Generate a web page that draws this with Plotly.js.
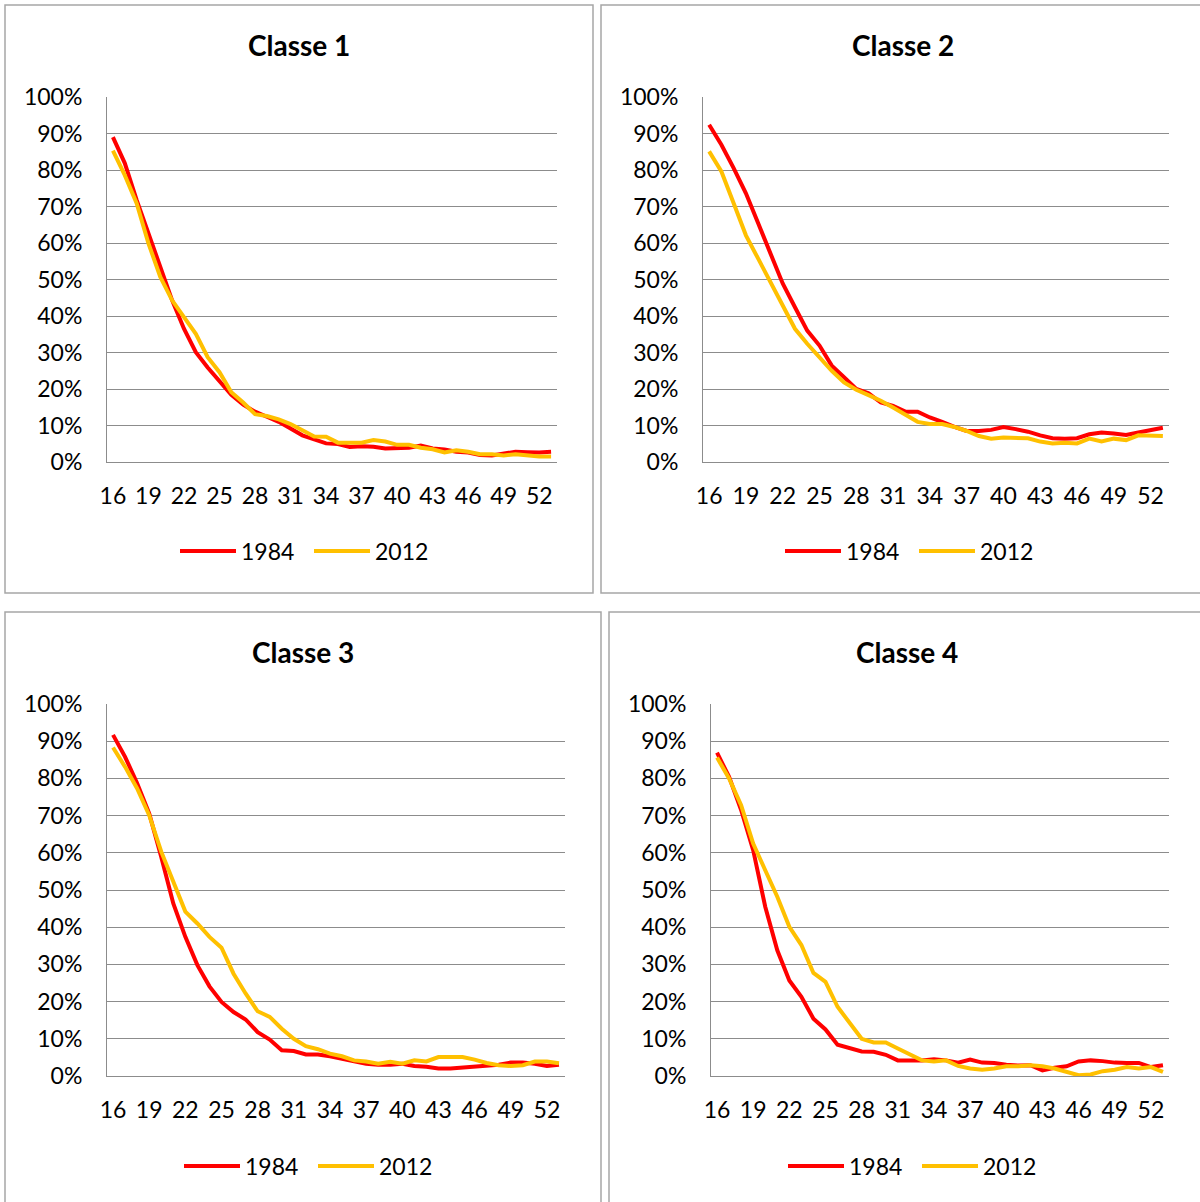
<!DOCTYPE html>
<html>
<head>
<meta charset="utf-8">
<script src="https://cdn.plot.ly/plotly-3.0.1.min.js"></script>
<style>
  html, body { margin: 0; padding: 0; background: #ffffff; }
  #chart { width: 1200px; height: 1202px; }
</style>
</head>
<body>
<div id="chart"></div>
<script>
// ---- Data (ages and shares) ----
const ages = [16,17,18,19,20,21,22,23,24,25,26,27,28,29,30,31,32,33,34,35,36,37,38,39,40,41,42,43,44,45,46,47,48,49,50,51,52,53];
const xTickVals = [16,19,22,25,28,31,34,37,40,43,46,49,52];
const seriesNames = ["1984", "2012"];
const panelTitles = ["Classe 1", "Classe 2", "Classe 3", "Classe 4"];

const classe1_1984 = [89.0,81.9,71.8,62.6,53.4,44.3,36.5,30.1,25.9,22.3,18.4,15.7,13.8,12.4,11.0,9.2,7.3,6.2,5.1,4.9,4.1,4.3,4.2,3.7,3.8,3.9,4.5,3.7,3.4,2.8,2.6,1.9,1.8,2.4,2.8,2.7,2.6,2.8];
const classe1_2012 = [85.3,78.6,70.9,59.9,50.7,44.3,39.7,35.1,28.7,24.6,19.1,16.3,13.1,12.6,11.7,10.4,8.7,7.0,6.9,5.3,5.3,5.3,6.0,5.6,4.7,4.7,3.9,3.5,2.6,3.2,2.8,2.1,2.1,1.8,2.1,1.8,1.5,1.5];

const classe2_1984 = [92.4,86.9,80.5,73.6,65.4,57.1,48.9,42.4,36.0,31.9,26.4,23.2,20.0,18.8,16.3,15.4,13.8,13.8,12.2,11.0,9.6,8.5,8.5,8.8,9.6,9.0,8.3,7.3,6.5,6.4,6.5,7.6,8.1,7.8,7.4,8.1,8.8,9.4];
const classe2_2012 = [85.1,79.6,70.9,62.1,55.7,49.3,42.9,36.5,32.4,28.7,25.0,21.8,19.8,18.3,16.8,14.9,12.9,11.0,10.4,10.4,9.6,8.5,7.1,6.4,6.7,6.7,6.5,5.6,5.1,5.3,5.1,6.4,5.6,6.4,6.0,7.3,7.1,7.1];

const classe3_1984 = [91.7,85.8,78.7,70.6,58.9,46.4,37.4,29.8,24.1,19.9,17.2,15.2,11.8,9.8,6.9,6.7,5.8,5.8,5.3,4.7,4.0,3.3,3.0,3.0,3.3,2.7,2.5,2.0,2.0,2.3,2.4,2.8,3.0,3.6,3.6,3.3,2.7,3.0];
const classe3_2012 = [88.3,83.1,77.3,70.1,60.3,52.2,44.2,41.0,37.4,34.5,27.5,22.2,17.4,15.9,12.7,10.0,8.0,7.2,6.0,5.3,4.2,3.9,3.3,3.8,3.3,4.2,3.9,5.1,5.0,5.1,4.4,3.5,2.9,2.7,2.9,3.9,3.9,3.4];

const classe4_1984 = [86.9,80.4,71.5,60.7,45.5,33.8,25.7,21.3,15.4,12.5,8.4,7.5,6.6,6.5,5.7,4.2,4.2,4.2,4.5,4.2,3.6,4.4,3.6,3.5,3.0,2.8,2.9,1.5,2.2,2.6,3.9,4.2,4.0,3.6,3.5,3.5,2.4,2.9];
const classe4_2012 = [85.6,80.0,72.8,62.5,55.3,48.2,40.1,35.2,27.7,25.3,18.6,14.5,10.0,9.0,9.0,7.4,5.7,4.2,3.9,4.2,2.7,2.0,1.7,2.0,2.6,2.6,2.9,2.6,2.0,1.1,0.2,0.4,1.3,1.7,2.4,2.0,2.4,1.1];

const panelData = [
  [classe1_1984, classe1_2012],
  [classe2_1984, classe2_2012],
  [classe3_1984, classe3_2012],
  [classe4_1984, classe4_2012]
];

// ---- Styling / layout ----
const W = 1200, H = 1202;
const colors = ["#FF0000", "#FFC000"];
const FONT = "Lato, 'Open Sans', sans-serif";
const px = v => v / W;
const py = v => 1 - v / H;

// plot areas in pixels [left, right, top, bottom]
const areas = [
  [107, 557, 97, 462],
  [703, 1169, 97, 462],
  [107, 565, 704, 1076],
  [711, 1169, 704, 1076]
];
// frames [left, right, top, bottom]
const frames = [
  [5, 593, 5, 593],
  [601, 1215, 5, 593],
  [5, 601, 612, 1215],
  [609, 1215, 612, 1215]
];
const titlePos = [[299, 45], [903, 45], [303, 652], [907, 652]];
// legend left edges (pixels) and vertical centres
const legendPos = [[175, 551], [780, 551], [179, 1166], [783, 1166]];

const traces = [];
const layout = {
  width: W, height: H,
  margin: {l: 0, r: 0, t: 0, b: 0},
  paper_bgcolor: "#ffffff",
  plot_bgcolor: "#ffffff",
  font: {family: FONT, size: 23, color: "#000000"},
  showlegend: true,
  shapes: [],
  annotations: []
};

for (let p = 0; p < 4; p++) {
  const sfx = p === 0 ? "" : String(p + 1);
  const legName = "legend" + sfx;
  for (let s = 0; s < 2; s++) {
    traces.push({
      type: "scatter",
      mode: "lines",
      x: ages,
      y: panelData[p][s].map(v => v / 100),
      name: seriesNames[s],
      line: {color: colors[s], width: 4},
      xaxis: "x" + sfx,
      yaxis: "y" + sfx,
      legend: legName,
      hoverinfo: "skip"
    });
  }
  const a = areas[p];
  layout["xaxis" + sfx] = {
    domain: [px(a[0]), px(a[1])],
    anchor: "y" + sfx,
    type: "linear",
    range: [15.5, 53.5],
    tickmode: "array",
    tickvals: xTickVals,
    ticktext: xTickVals.map(String),
    showgrid: false,
    zeroline: false,
    showline: true,
    linecolor: "#8C8C8C",
    linewidth: 1,
    ticks: "",
    ticklabelstandoff: 13,
    tickfont: {family: FONT, size: 23, color: "#000000"},
    fixedrange: true
  };
  layout["yaxis" + sfx] = {
    domain: [py(a[3]), py(a[2])],
    anchor: "x" + sfx,
    range: [0, 1],
    tickmode: "linear",
    tick0: 0,
    dtick: 0.1,
    tickformat: ".0%",
    showgrid: true,
    gridcolor: "#8C8C8C",
    gridwidth: 1,
    zeroline: false,
    showline: true,
    linecolor: "#8C8C8C",
    linewidth: 1,
    ticks: "",
    ticklabelstandoff: 19,
    tickfont: {family: FONT, size: 23, color: "#000000"},
    fixedrange: true
  };
  layout[legName] = {
    orientation: "h",
    x: px(legendPos[p][0]),
    y: py(legendPos[p][1]),
    xanchor: "left",
    yanchor: "middle",
    xref: "paper", yref: "paper",
    font: {family: FONT, size: 23, color: "#000000"},
    bgcolor: "rgba(0,0,0,0)",
    itemwidth: 56,
    entrywidth: 63,
    tracegroupgap: 0
  };
  const f = frames[p];
  layout.shapes.push({
    type: "rect", xref: "paper", yref: "paper",
    x0: px(f[0]), x1: px(f[1]), y0: py(f[3]), y1: py(f[2]),
    line: {color: "#A6A6A6", width: 1.5},
    fillcolor: "rgba(0,0,0,0)",
    layer: "below"
  });
  layout.annotations.push({
    text: "<b>" + panelTitles[p] + "</b>",
    xref: "paper", yref: "paper",
    x: px(titlePos[p][0]), y: py(titlePos[p][1]),
    xanchor: "center", yanchor: "middle",
    showarrow: false,
    font: {family: FONT, size: 28, color: "#000000"}
  });
}

Plotly.newPlot("chart", traces, layout, {displayModeBar: false, staticPlot: true});
</script>
</body>
</html>
